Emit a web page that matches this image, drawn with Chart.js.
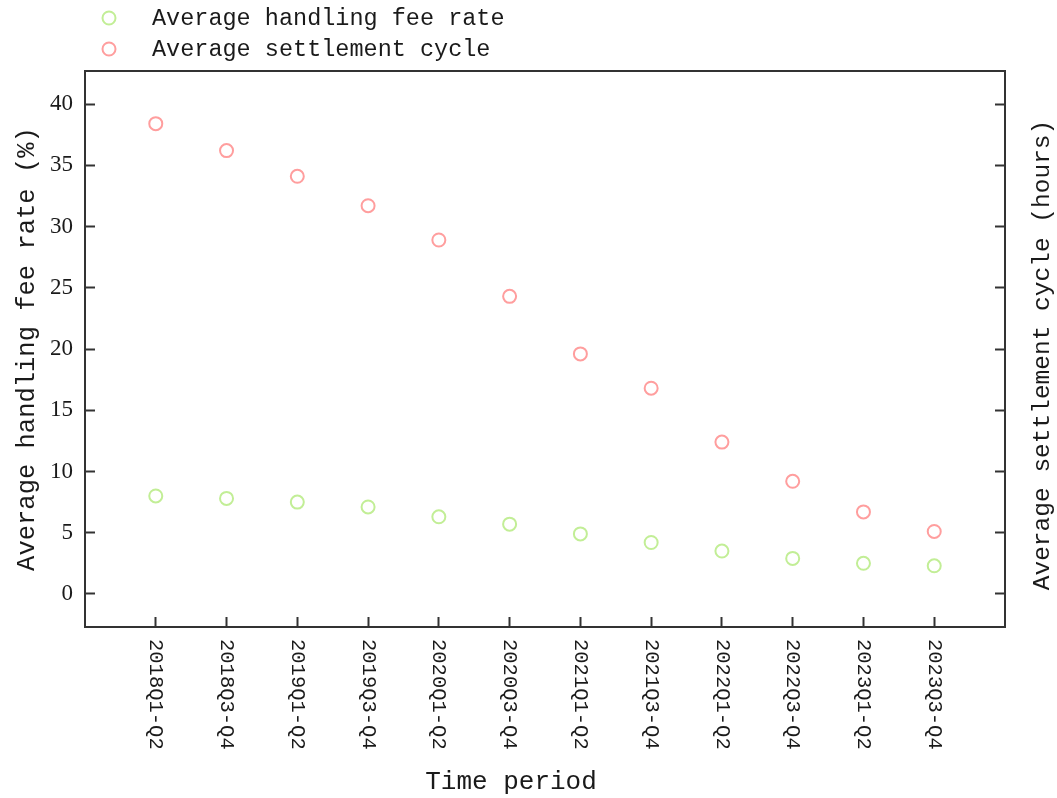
<!DOCTYPE html>
<html lang="en">
<head>
    <meta charset="UTF-8">
    <title>Handling fee rate and settlement cycle</title>
    <script src="https://cdn.jsdelivr.net/npm/chart.js"></script>
    <style>
        body { margin: 0; background: #fff; }
        canvas { display: block; }
    </style>
</head>
<body>
    <canvas id="chart" width="1057" height="798"></canvas>
    <script>
        const categories = ['2018Q1-Q2', '2018Q3-Q4', '2019Q1-Q2', '2019Q3-Q4', '2020Q1-Q2', '2020Q3-Q4',
                            '2021Q1-Q2', '2021Q3-Q4', '2022Q1-Q2', '2022Q3-Q4', '2023Q1-Q2', '2023Q3-Q4'];
        const feeRate = [8.0, 7.8, 7.5, 7.1, 6.3, 5.7, 4.9, 4.2, 3.5, 2.9, 2.5, 2.3];
        const settlementCycle = [38.4, 36.2, 34.1, 31.7, 28.9, 24.3, 19.6, 16.8, 12.4, 9.2, 6.7, 5.1];
        const yTicks = [0, 5, 10, 15, 20, 25, 30, 35, 40];

        const MONO = '"Liberation Mono", "DejaVu Sans Mono", monospace';
        const SERIF = '"Liberation Serif", "DejaVu Serif", serif';
        const AXIS = '#333';
        const TEXT = '#1a1a1a';

        // frame, legend, clockwise x labels and the two titles chart.js can't place
        const extras = {
            id: 'extras',
            afterDraw(chart) {
                const ctx = chart.ctx;
                const a = chart.chartArea;
                ctx.save();
                ctx.strokeStyle = AXIS;
                ctx.lineWidth = 2;
                ctx.strokeRect(a.left, a.top, a.right - a.left, a.bottom - a.top);

                // legend
                ctx.font = '23.5px ' + MONO;
                ctx.textBaseline = 'middle';
                ctx.textAlign = 'left';
                chart.data.datasets.forEach((ds, i) => {
                    const y = 18 + i * 31;
                    ctx.beginPath();
                    ctx.arc(109, y, 6.5, 0, Math.PI * 2);
                    ctx.strokeStyle = ds.borderColor;
                    ctx.lineWidth = 2;
                    ctx.stroke();
                    ctx.fillStyle = TEXT;
                    ctx.fillText(ds.label, 152, y + 1);
                });

                // x tick labels, reading top to bottom
                const xs = chart.scales.x;
                ctx.font = '20.5px ' + MONO;
                ctx.fillStyle = TEXT;
                xs.ticks.forEach(t => {
                    const px = xs.getPixelForValue(t.value);
                    ctx.save();
                    ctx.translate(px, a.bottom + 12);
                    ctx.rotate(Math.PI / 2);
                    ctx.textAlign = 'left';
                    ctx.textBaseline = 'middle';
                    ctx.fillText(categories[t.value], 0, 0);
                    ctx.restore();
                });

                // x title
                ctx.font = '26px ' + MONO;
                ctx.textAlign = 'center';
                ctx.textBaseline = 'middle';
                ctx.fillText('Time period', 511, 782);

                // right axis title, reading bottom to top
                ctx.save();
                ctx.font = '24.5px ' + MONO;
                ctx.translate(1043, (a.top + a.bottom) / 2 + 6);
                ctx.rotate(-Math.PI / 2);
                ctx.textAlign = 'center';
                ctx.textBaseline = 'middle';
                ctx.fillText('Average settlement cycle (hours)', 0, 0);
                ctx.restore();
                ctx.restore();
            }
        };

        const tickGrid = {
            drawOnChartArea: false,
            drawTicks: true,
            tickLength: -10,
            tickWidth: 2,
            tickColor: AXIS
        };

        new Chart(document.getElementById('chart'), {
            type: 'scatter',
            data: {
                datasets: [{
                    label: 'Average handling fee rate',
                    data: categories.map((c, i) => ({ x: i, y: feeRate[i] })),
                    borderColor: '#c2ee96',
                    backgroundColor: 'rgba(0,0,0,0)',
                    pointRadius: 6.5,
                    pointBorderWidth: 2,
                    yAxisID: 'y'
                }, {
                    label: 'Average settlement cycle',
                    data: categories.map((c, i) => ({ x: i, y: settlementCycle[i] })),
                    borderColor: '#ff9e9e',
                    backgroundColor: 'rgba(0,0,0,0)',
                    pointRadius: 6.5,
                    pointBorderWidth: 2,
                    yAxisID: 'y2'
                }]
            },
            options: {
                responsive: false,
                animation: false,
                layout: { padding: { top: 71, left: 0, right: 0, bottom: 0 } },
                plugins: { legend: { display: false }, tooltip: { enabled: false } },
                scales: {
                    x: {
                        type: 'linear',
                        min: -1,
                        max: 12,
                        afterBuildTicks: s => { s.ticks = categories.map((c, i) => ({ value: i })); },
                        afterFit: s => { s.height = 171; },
                        grid: tickGrid,
                        border: { color: AXIS, width: 2 },
                        ticks: { color: 'rgba(0,0,0,0)', maxRotation: 0, autoSkip: false }
                    },
                    y: {
                        position: 'left',
                        min: -2.7,
                        max: 42.7,
                        afterBuildTicks: s => { s.ticks = yTicks.map(v => ({ value: v })); },
                        afterFit: s => { s.width = 85; },
                        grid: tickGrid,
                        border: { color: AXIS, width: 2 },
                        ticks: { color: TEXT, padding: 22, font: { family: SERIF, size: 23 } },
                        title: {
                            display: true,
                            text: 'Average handling fee rate (%)',
                            color: TEXT,
                            font: { family: MONO, size: 25.5 },
                            padding: { top: 12, bottom: 0 }
                        }
                    },
                    y2: {
                        position: 'right',
                        min: -2.7,
                        max: 42.7,
                        afterBuildTicks: s => { s.ticks = yTicks.map(v => ({ value: v })); },
                        afterFit: s => { s.width = 52; },
                        grid: tickGrid,
                        border: { color: AXIS, width: 2 },
                        ticks: { display: false }
                    }
                }
            },
            plugins: [extras]
        });
    </script>
</body>
</html>
